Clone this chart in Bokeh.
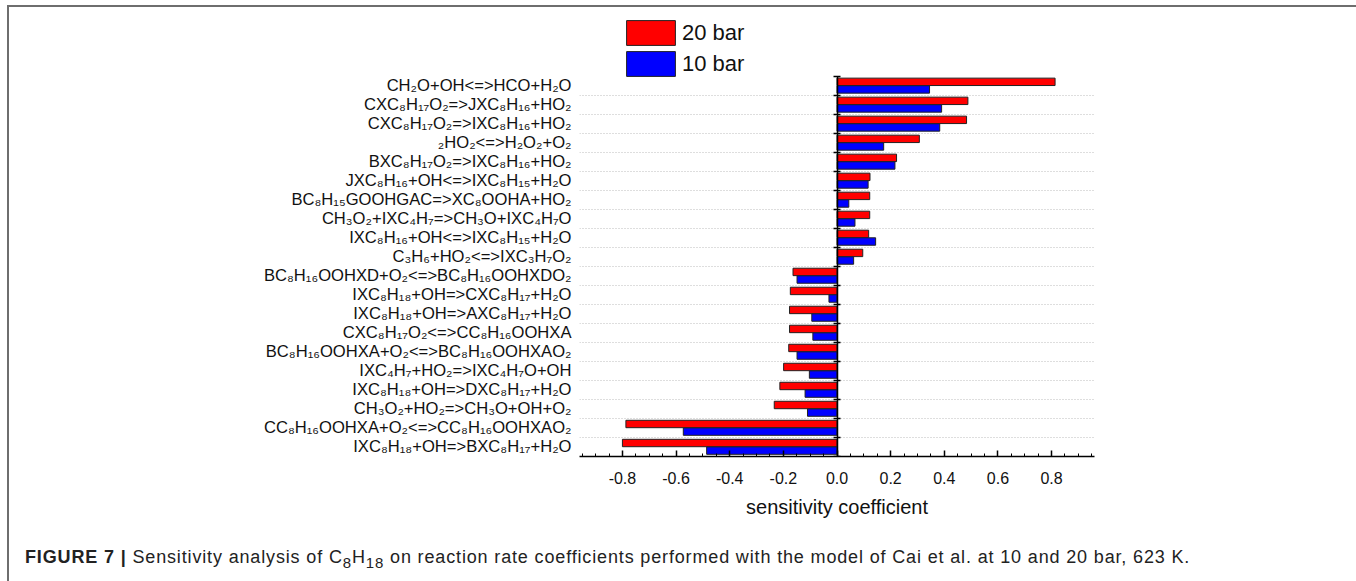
from bokeh.plotting import figure
from bokeh.layouts import column
from bokeh.models import (Range1d, LinearAxis, FixedTicker, Grid, CustomJSTickFormatter, Div,
                          Legend, LegendItem, PrintfTickFormatter, ColumnDataSource)
from bokeh.embed import file_html
from bokeh.resources import INLINE

# ---- data (top to bottom as in the reference) ----
reactions = [
    "CH₂O+OH<=>HCO+H₂O",
    "CXC₈H₁₇O₂=>JXC₈H₁₆+HO₂",
    "CXC₈H₁₇O₂=>IXC₈H₁₆+HO₂",
    "₂HO₂<=>H₂O₂+O₂",
    "BXC₈H₁₇O₂=>IXC₈H₁₆+HO₂",
    "JXC₈H₁₆+OH<=>IXC₈H₁₅+H₂O",
    "BC₈H₁₅GOOHGAC=>XC₈OOHA+HO₂",
    "CH₃O₂+IXC₄H₇=>CH₃O+IXC₄H₇O",
    "IXC₈H₁₆+OH<=>IXC₈H₁₅+H₂O",
    "C₃H₆+HO₂<=>IXC₃H₇O₂",
    "BC₈H₁₆OOHXD+O₂<=>BC₈H₁₆OOHXDO₂",
    "IXC₈H₁₈+OH=>CXC₈H₁₇+H₂O",
    "IXC₈H₁₈+OH=>AXC₈H₁₇+H₂O",
    "CXC₈H₁₇O₂<=>CC₈H₁₆OOHXA",
    "BC₈H₁₆OOHXA+O₂<=>BC₈H₁₆OOHXAO₂",
    "IXC₄H₇+HO₂=>IXC₄H₇O+OH",
    "IXC₈H₁₈+OH=>DXC₈H₁₇+H₂O",
    "CH₃O₂+HO₂=>CH₃O+OH+O₂",
    "CC₈H₁₆OOHXA+O₂<=>CC₈H₁₆OOHXAO₂",
    "IXC₈H₁₈+OH=>BXC₈H₁₇+H₂O",
]
sens_20bar = [0.813, 0.488, 0.483, 0.307, 0.222, 0.123, 0.122, 0.122, 0.118, 0.096,
              -0.164, -0.174, -0.177, -0.177, -0.180, -0.199, -0.213, -0.234, -0.787, -0.800]
sens_10bar = [0.345, 0.390, 0.383, 0.174, 0.216, 0.116, 0.044, 0.067, 0.144, 0.062,
              -0.149, -0.030, -0.094, -0.090, -0.149, -0.103, -0.119, -0.110, -0.573, -0.486]
series_names = ["20 bar", "10 bar"]
x_ticks = [-0.8, -0.6, -0.4, -0.2, 0.0, 0.2, 0.4, 0.6, 0.8]
x_title = "sensitivity coefficient"
caption_bold = "FIGURE 7 |"
caption_html = ("Sensitivity analysis of C<sub>8</sub>H<sub>18</sub> on reaction rate coefficients "
                "performed with the model of Cai et al. at 10 and 20 bar, 623 K.")

FONT = "Liberation Sans"
n = len(reactions)
slot = [n - 1 - i for i in range(n)]          # category slot, counted from the bottom

src = ColumnDataSource(dict(cat=reactions, slot=slot, v20=sens_20bar, v10=sens_10bar,
                            y20=[s + 0.71 for s in slot], y10=[s + 0.31 for s in slot]))

W = 1342
# y range extends above the categories so that the legend sits inside the plot area
p = figure(width=W, height=530, output_backend="svg", toolbar_location=None,
           y_range=Range1d(0, n + 3.2), x_range=Range1d(-0.96, 0.96),
           min_border_left=570, min_border_right=257, min_border_top=8, min_border_bottom=81)
p.outline_line_color = None
p.background_fill_color = "white"
p.border_fill_color = "white"
p.xgrid.visible = False
p.ygrid.visible = False

# bars
r20 = p.hbar(y="y20", left=0, right="v20", height=0.39,
             source=src, fill_color="#ff0000", line_color="#222222", line_width=1)
r10 = p.hbar(y="y10", left=0, right="v10", height=0.39,
             source=src, fill_color="#0000ff", line_color="#222222", line_width=1)

# category label axis (left)
ya = p.yaxis[0]
ya.ticker = FixedTicker(ticks=[s + 0.5 for s in range(n)], minor_ticks=[])
ya.formatter = CustomJSTickFormatter(args=dict(labels=list(reversed(reactions))),
                                     code="return labels[Math.round(tick - 0.5)];")
ya.axis_line_color = None
ya.major_tick_line_color = None
ya.minor_tick_line_color = None
ya.major_label_text_font = FONT
ya.major_label_text_font_size = "16.6px"
ya.major_label_text_color = "#111111"
ya.major_label_standoff = 2

# boundary axis at x = 0 and dotted grid at category boundaries
bound_ticks = list(range(n + 1))
zero_axis = LinearAxis(fixed_location=0, bounds=(0, n),
                       ticker=FixedTicker(ticks=bound_ticks, minor_ticks=[]),
                       major_label_text_font_size="0px", major_label_text_color=None,
                       axis_line_color="black", axis_line_width=1.5,
                       major_tick_line_color="black", major_tick_line_width=1.5,
                       major_tick_in=3, major_tick_out=4,
                       minor_tick_line_color=None)
p.add_layout(zero_axis, "left")
grid = Grid(dimension=1, ticker=FixedTicker(ticks=bound_ticks[1:-1]),
            grid_line_color="#bdbdbd", grid_line_dash="1 2", grid_line_width=1)
p.add_layout(grid)

# x axis
minor = [round(-0.95 + 0.05 * i, 2) for i in range(39)]
xa = p.xaxis[0]
xa.ticker = FixedTicker(ticks=x_ticks, minor_ticks=minor)
xa.formatter = PrintfTickFormatter(format="%.1f")
xa.axis_line_color = "black"
xa.axis_line_width = 1.5
xa.major_tick_line_color = "black"
xa.major_tick_line_width = 1.5
xa.major_tick_in = 6
xa.major_tick_out = 0
xa.minor_tick_line_color = "black"
xa.minor_tick_in = 3
xa.minor_tick_out = 0
xa.major_label_text_font = FONT
xa.major_label_text_font_size = "16px"
xa.major_label_text_color = "#111111"
xa.major_label_standoff = 15
xa.axis_label = x_title
xa.axis_label_text_font = FONT
xa.axis_label_text_font_style = "normal"
xa.axis_label_text_font_size = "20px"
xa.axis_label_text_color = "#111111"
xa.axis_label_standoff = 9

# legend (glyph boxes are drawn with a 10% inset inside glyph_width x glyph_height)
legend = Legend(items=[LegendItem(label=series_names[0], renderers=[r20]),
                       LegendItem(label=series_names[1], renderers=[r10])],
                location=(41, 377), orientation="vertical",
                glyph_width=61, glyph_height=31, label_height=31, spacing=-3,
                padding=0, margin=0, label_standoff=1,
                border_line_color=None, background_fill_alpha=0,
                label_text_font=FONT, label_text_font_size="22px", label_text_color="#111111")
p.add_layout(legend, "center")

# caption
cap = Div(text=f"<b>{caption_bold}</b> {caption_html}", width=W, height=40,
          styles={"font-family": FONT, "font-size": "18px", "color": "#222222",
                  "letter-spacing": "0.85px",
                  "padding-left": "11px", "padding-top": "5px", "line-height": "20px",
                  "box-sizing": "border-box", "white-space": "nowrap"})

layout = column(p, cap, spacing=0,
                styles={"margin-left": "7px", "margin-top": "5px",
                        "border-top": "2px solid #6e6e6e", "border-left": "2px solid #6e6e6e",
                        "border-right": "2px solid #6e6e6e"})

open("out.html", "w").write(file_html(layout, INLINE))
